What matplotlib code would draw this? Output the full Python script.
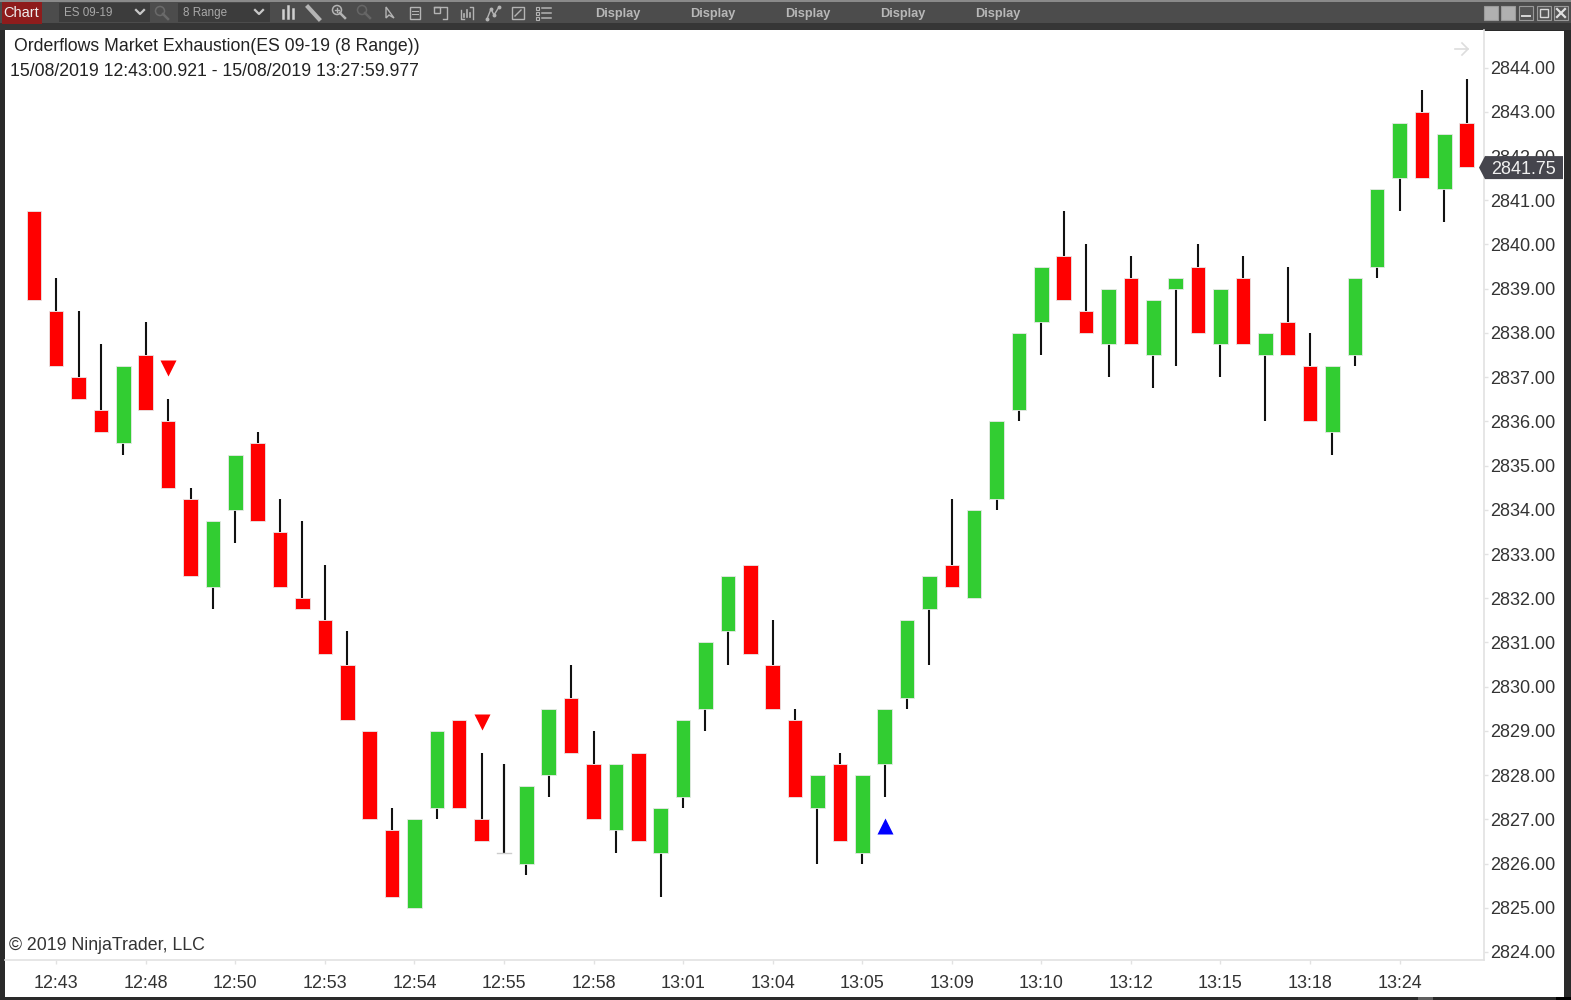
import matplotlib
matplotlib.use("Agg")
import matplotlib.pyplot as plt
from matplotlib.patches import Rectangle, Polygon, Circle

plt.rcParams['font.family'] = ['Liberation Sans', 'DejaVu Sans']

opens = [2840.75,2838.5,2837,2836.25,2835.5,2837.5,2836,2834.25,2832.25,2834,2835.5,2833.5,2832,
         2831.5,2830.5,2829,2826.75,2825,2827.25,2829.25,2827,2826.25,2826,2828,2829.75,2828.25,
         2826.75,2828.5,2826.25,2827.5,2829.5,2831.25,2832.75,2830.5,2829.25,2827.25,2828.25,2826.25,
         2828.25,2829.75,2831.75,2832.75,2832,2834.25,2836.25,2838.25,2839.75,2838.5,2837.75,2839.25,
         2837.5,2839,2839.5,2837.75,2839.25,2837.5,2838.25,2837.25,2835.75,2837.5,2839.5,2841.5,2843,
         2841.25,2842.75]
closes = [2838.75,2837.25,2836.5,2835.75,2837.25,2836.25,2834.5,2832.5,2833.75,2835.25,2833.75,2832.25,2831.75,
          2830.75,2829.25,2827,2825.25,2827,2829,2827.25,2826.5,2826.25,2827.75,2829.5,2828.5,2827,
          2828.25,2826.5,2827.25,2829.25,2831,2832.5,2830.75,2829.5,2827.5,2828,2826.5,2828,
          2829.5,2831.5,2832.5,2832.25,2834,2836,2838,2839.5,2838.75,2838,2839,2837.75,
          2838.75,2839.25,2838,2839,2837.75,2838,2837.5,2836,2837.25,2839.25,2841.25,2842.75,2841.5,
          2842.5,2841.75]
highs = [2840.75,2839.25,2838.5,2837.75,2837.25,2838.25,2836.5,2834.5,2833.75,2835.25,2835.75,2834.25,2833.75,
         2832.75,2831.25,2829,2827.25,2827,2829,2829.25,2828.5,2828.25,2827.75,2829.5,2830.5,2829,
         2828.25,2828.5,2827.25,2829.25,2831,2832.5,2832.75,2831.5,2829.5,2828,2828.5,2828,
         2829.5,2831.5,2832.5,2834.25,2834,2836,2838,2839.5,2840.75,2840,2839,2839.75,
         2838.75,2839.25,2840,2839,2839.75,2838,2839.5,2838,2837.25,2839.25,2841.25,2842.75,2843.5,
         2842.5,2843.75]
lows = [2838.75,2837.25,2836.5,2835.75,2835.25,2836.25,2834.5,2832.5,2831.75,2833.25,2833.75,2832.25,2831.75,
        2830.75,2829.25,2827,2825.25,2825,2827,2827.25,2826.5,2826.25,2825.75,2827.5,2828.5,2827,
        2826.25,2826.5,2825.25,2827.25,2829,2830.5,2830.75,2829.5,2827.5,2826,2826.5,2826,
        2827.5,2829.5,2830.5,2832.25,2832,2834,2836,2837.5,2838.75,2838,2837,2837.75,
        2836.75,2837.25,2838,2837,2837.75,2836,2837.5,2836,2835.25,2837.25,2839.25,2840.75,2841.5,
        2840.5,2841.75]

time_ticks = [1,5,9,13,17,21,25,29,33,37,41,45,49,53,57,61]
time_labels = ['12:43','12:48','12:50','12:53','12:54','12:55','12:58','13:01','13:04','13:05',
               '13:09','13:10','13:12','13:15','13:18','13:24']
price_ticks = list(range(2824, 2845))
down_signals = [(6, 2837.2), (20, 2829.2)]
up_signals = [(38, 2826.85)]
last_price = 2841.75

W, H = 1571, 1000
fig = plt.figure(figsize=(W/100, H/100), dpi=100, facecolor='#2a2a2a')

bg = fig.add_axes([0, 0, 1, 1], zorder=0)
bg.set_xlim(0, W); bg.set_ylim(H, 0); bg.axis('off')
bg.add_patch(Rectangle((0, 0), W, 23, fc='#4c4c4c', ec='none'))
bg.add_patch(Rectangle((0, 23), W, 7, fc='#363636', ec='none'))
bg.add_patch(Rectangle((0, 0), W, 1.5, fc='#8a8a8a', ec='none'))
bg.add_patch(Rectangle((5, 30.5), 1559, 966.5, fc='white', ec='none'))
bg.add_patch(Rectangle((1418, 997), 15, 3, fc='#606060', ec='none'))
bg.add_patch(Rectangle((1556, 997), 15, 3, fc='#000000', ec='none'))

# toolbar
bg.add_patch(Rectangle((2, 2), 40, 22, fc='#8e1c1c', ec='none'))
bg.text(21, 13, 'Chart', color='#eeeeee', fontsize=10.5, ha='center', va='center')
for x0, x1, lab, cx in [(59, 150, 'ES 09-19', 140), (178, 270, '8 Range', 259)]:
    bg.add_patch(Rectangle((x0, 3), x1-x0, 19, fc='#3c3c3c', ec='none'))
    bg.text(x0+5.5, 13, lab, color='#a8a8a8', fontsize=8.4, ha='left', va='center')
    bg.plot([cx-4, cx, cx+4], [10, 14, 10], color='#c8c8c8', lw=1.6)
ic = '#b4b4b4'
def lens(x, y, c):
    bg.add_patch(Circle((x, y), 4.5, fc='none', ec=c, lw=1.1))
    bg.plot([x+3, x+8], [y+3, y+8], color=c, lw=1.8)
lens(160, 11, '#6a6a6a')
for dx, top in [(-5, 10), (0, 6), (5, 9)]:
    bg.plot([288+dx, 288+dx], [top, 18], color='#d0d0d0', lw=1.8)
bg.plot([308, 319], [7, 19], color=ic, lw=3)
lens(337, 10, ic)
bg.plot([335, 339], [10, 10], color=ic, lw=1); bg.plot([337, 337], [8, 12], color=ic, lw=1)
lens(362, 10, '#666666')
bg.add_patch(Polygon([(386, 7), (386, 18), (389, 15), (394, 18)], fc='none', ec=ic, lw=1))
bg.add_patch(Rectangle((410, 7), 10, 12, fc='none', ec=ic, lw=1))
bg.plot([412, 418], [11, 11], color=ic, lw=0.8); bg.plot([412, 418], [14, 14], color=ic, lw=0.8)
bg.plot([434, 447, 447, 443], [7, 7, 19, 19], color=ic, lw=1)
bg.add_patch(Rectangle((434, 7), 6, 6, fc='none', ec=ic, lw=1))
bg.plot([461, 461, 464], [10, 19, 19], color=ic, lw=1); bg.plot([470, 473, 473], [7, 7, 19], color=ic, lw=1)
for dx, top in [(464, 14), (467, 10), (470, 13)]:
    bg.plot([dx, dx], [top, 17], color=ic, lw=1.2)
bg.plot([487, 491, 494, 499], [19, 9, 15, 7], color=ic, lw=1, marker='o', ms=1.8)
bg.add_patch(Rectangle((512, 7), 12, 12, fc='none', ec=ic, lw=1))
bg.plot([515, 521], [16, 10], color=ic, lw=1)
for y in [8, 13, 18]:
    bg.add_patch(Rectangle((536, y-1.5), 3, 3, fc='none', ec=ic, lw=0.8))
    bg.plot([542, 551], [y, y], color=ic, lw=1.1)
for x in [618, 713, 808, 903, 998]:
    bg.text(x, 14, 'Display', color='#b8b8b8', fontsize=9.2, fontweight='bold', ha='center', va='center')
for x, fill in [(1491, True), (1508, True), (1526, False), (1544, False), (1561, False)]:
    bg.add_patch(Rectangle((x-7, 6), 14, 14, fc='#b0b0b0' if fill else '#555555', ec='#9a9a9a', lw=0.8))
bg.plot([1522, 1530], [16, 16], color='#d8d8d8', lw=1.4)
bg.add_patch(Rectangle((1540, 9), 8, 8, fc='none', ec='#d8d8d8', lw=1))
bg.plot([1557, 1565], [9, 17], color='#e0e0e0', lw=1.6); bg.plot([1557, 1565], [17, 9], color='#e0e0e0', lw=1.6)

# price chart
ax_l, ax_r, ax_t, ax_b = 5, 1484, 30, 960
ax = fig.add_axes([ax_l/W, 1-ax_b/H, (ax_r-ax_l)/W, (ax_b-ax_t)/H], zorder=1, facecolor='white')
step = 22.39
x0 = 33.8
ax.set_xlim((ax_l-x0)/step, (ax_r-x0)/step)
pp = 44.22
ax.set_ylim(2824-(ax_b-952.0)/pp, 2844+(67.6-ax_t)/pp)
for s in ['top', 'left']:
    ax.spines[s].set_visible(False)
for s in ['right', 'bottom']:
    ax.spines[s].set_color('#e2e2e2'); ax.spines[s].set_linewidth(1.2)
ax.yaxis.tick_right()
ax.set_yticks(price_ticks)
ax.set_yticklabels([f'{p:.2f}' for p in price_ticks], fontsize=12.95, color='#333333')
ax.set_xticks(time_ticks)
ax.set_xticklabels(time_labels, fontsize=12.9, color='#333333')
ax.tick_params(axis='both', length=3, width=1, color='#e2e2e2')
ax.tick_params(axis='y', pad=1.5)
ax.tick_params(axis='x', pad=7.5)

bw = 0.65
for i, (o, c, h, l) in enumerate(zip(opens, closes, highs, lows)):
    top, bot = max(o, c), min(o, c)
    if h > top:
        ax.plot([i, i], [top, h], color='#111111', lw=1.5, solid_capstyle='butt', zorder=2)
    if l < bot:
        ax.plot([i, i], [l, bot], color='#111111', lw=1.5, solid_capstyle='butt', zorder=2)
    if o == c:
        ax.plot([i, i], [c, h], color='#111111', lw=1.5, solid_capstyle='butt', zorder=2)
        ax.plot([i-bw/2, i+bw/2], [c, c], color='#cccccc', lw=1, zorder=2)
    else:
        ax.add_patch(Rectangle((i-bw/2, bot), bw, top-bot, fc='#ff0000' if c < o else '#32cd32',
                               ec='#e8e8e8', lw=0.6, zorder=3))
ax.plot(*zip(*down_signals), ls='none', marker='v', ms=11.5, color='#ff0000', mec='none', zorder=4)
ax.plot(*zip(*up_signals), ls='none', marker='^', ms=11.5, color='#0000ff', mec='none', zorder=4)

ax.text(0.0061, 0.9818, 'Orderflows Market Exhaustion(ES 09-19 (8 Range))', transform=ax.transAxes,
        fontsize=12.72, color='#222222', ha='left', va='center')
ax.text(0.0034, 0.9553, '15/08/2019 12:43:00.921 - 15/08/2019 13:27:59.977', transform=ax.transAxes,
        fontsize=12.68, color='#222222', ha='left', va='center')
ax.text(0.0027, 0.0153, '\u00a9 2019 NinjaTrader, LLC', transform=ax.transAxes,
        fontsize=12.74, color='#333333', ha='left', va='center')

# overlay
top = fig.add_axes([0, 0, 1, 1], zorder=2)
top.patch.set_alpha(0)
top.set_xlim(0, W); top.set_ylim(H, 0); top.axis('off')
py = 67.6 + (2844-last_price)*pp + 0.5
top.add_patch(Polygon([(1479, py), (1485, py-11.5), (1563, py-11.5), (1563, py+11.5), (1485, py+11.5)],
                      fc='#45454d', ec='none'))
top.text(1524, py+1.5, f'{last_price:.2f}', color='#f0f0f0', fontsize=12.95, ha='center', va='center')
top.plot([1455, 1468], [49, 49], color='#dddddd', lw=1.2)
top.plot([1462, 1468, 1462], [43, 49, 55], color='#dddddd', lw=1.2)

fig.savefig('out.png', dpi=100, facecolor=fig.get_facecolor())
